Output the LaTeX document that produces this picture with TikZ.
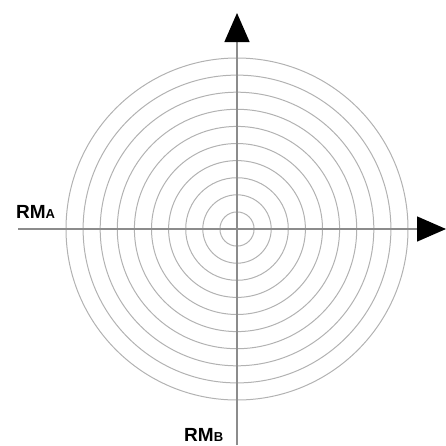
\documentclass[tikz,border=0pt]{standalone}
\usepackage{fontspec}
\setmainfont{Liberation Sans}
\usetikzlibrary{arrows.meta}
\definecolor{axisgray}{gray}{0.55}
\definecolor{ringgray}{gray}{0.7}
\tikzset{
  axis/.style={draw=axisgray, line width=1.4pt, -{Triangle[length=29pt,width=25pt,color=black]}},
  ring/.style={draw=ringgray, line width=1pt},
  lbl/.style={font=\fontsize{19}{19}\selectfont\bfseries, inner sep=0pt, anchor=west}
}
\begin{document}
\begin{tikzpicture}[x=1pt,y=-1pt]
\useasboundingbox (0,0) rectangle (446,445);
\coordinate (c) at (237,229);
\foreach \r in {1,...,10} {
  \draw[ring] (c) circle[radius=17.1*\r];
}
\coordinate (left) at (18,229);
\coordinate (right) at (446,229);
\coordinate (bottom) at (237,445);
\coordinate (top) at (237,13);
\draw[axis] (left) -- (right);
\draw[axis] (bottom) -- (top);
\node[lbl] (rma) at (16,211.5) {RM{\fontsize{13}{13}\selectfont A}};
\node[lbl] (rmb) at (184,434.5) {RM{\fontsize{13}{13}\selectfont B}};
\end{tikzpicture}
\end{document}
